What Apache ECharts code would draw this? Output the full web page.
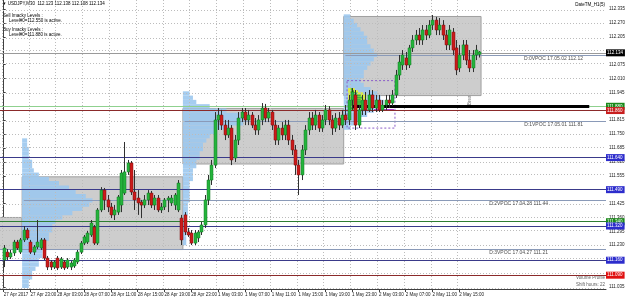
<!DOCTYPE html>
<html>
<head>
<meta charset="utf-8" />
<title>USDJPY,M30</title>
<script src="https://cdn.jsdelivr.net/npm/echarts@6/dist/echarts.min.js"></script>
</head>
<body style="margin:0;background:#fff">
<div id="chart" style="width:625px;height:298px;"></div>
<script>
// candles: [open, high, low, close], one per M30 bar, 27 Apr 19:00 .. 2 May 18:00
var candles = [
 [111.161,111.231,111.128,111.217],[111.198,111.212,111.161,111.175],[111.175,111.208,111.166,111.194],[111.194,111.255,111.180,111.245],
 [111.245,111.255,111.208,111.217],[111.198,111.264,111.189,111.255],[111.255,111.320,111.245,111.301],[111.301,111.311,111.255,111.264],
 [111.245,111.255,111.189,111.198],[111.198,111.231,111.184,111.222],[111.222,111.348,111.212,111.245],[111.217,111.264,111.208,111.255],
 [111.255,111.264,111.161,111.170],[111.170,111.180,111.114,111.128],[111.152,111.161,111.114,111.128],[111.128,111.161,111.119,111.152],
 [111.170,111.180,111.114,111.124],[111.128,111.175,111.119,111.166],[111.152,111.161,111.114,111.124],[111.128,111.170,111.119,111.161],
 [111.128,111.156,111.114,111.147],[111.133,111.170,111.124,111.161],[111.152,111.208,111.142,111.198],[111.198,111.250,111.189,111.240],
 [111.240,111.278,111.231,111.269],[111.245,111.297,111.236,111.287],[111.278,111.348,111.269,111.334],[111.315,111.325,111.231,111.240],
 [111.240,111.404,111.231,111.395],[111.395,111.502,111.385,111.488],[111.488,111.498,111.395,111.442],[111.442,111.465,111.385,111.409],
 [111.409,111.428,111.357,111.372],[111.372,111.418,111.348,111.395],[111.385,111.465,111.372,111.456],[111.418,111.582,111.385,111.568],
 [111.474,111.713,111.465,111.573],[111.573,111.629,111.559,111.615],[111.615,111.624,111.465,111.479],[111.479,111.582,111.395,111.442],
 [111.451,111.488,111.372,111.428],[111.432,111.442,111.357,111.418],[111.418,111.465,111.404,111.442],[111.442,111.488,111.418,111.474],
 [111.474,111.484,111.404,111.418],[111.418,111.465,111.395,111.451],[111.451,111.465,111.385,111.395],[111.395,111.428,111.381,111.409],
 [111.409,111.451,111.395,111.442],[111.442,111.460,111.385,111.451],[111.428,111.465,111.414,111.451],[111.418,111.474,111.395,111.465],
 [111.395,111.535,111.385,111.521],[111.357,111.372,111.231,111.255],[111.372,111.385,111.278,111.292],[111.292,111.311,111.269,111.278],
 [111.287,111.301,111.231,111.240],[111.240,111.301,111.231,111.287],[111.264,111.301,111.245,111.292],[111.292,111.339,111.278,111.325],
 [111.325,111.465,111.311,111.442],[111.442,111.559,111.418,111.535],[111.535,111.629,111.512,111.605],[111.605,111.853,111.591,111.816],
 [111.816,111.872,111.769,111.839],[111.839,111.863,111.769,111.792],[111.792,111.816,111.722,111.746],[111.746,111.816,111.732,111.778],
 [111.778,111.792,111.605,111.629],[111.638,111.746,111.619,111.722],[111.722,111.853,111.699,111.825],[111.825,111.872,111.806,111.853],
 [111.853,111.872,111.792,111.816],[111.816,111.863,111.792,111.839],[111.839,111.853,111.778,111.792],[111.792,111.825,111.746,111.769],
 [111.769,111.839,111.746,111.816],[111.816,111.895,111.792,111.872],[111.872,111.891,111.806,111.825],[111.825,111.872,111.806,111.853],
 [111.853,111.863,111.769,111.792],[111.792,111.816,111.699,111.722],[111.722,111.792,111.699,111.778],[111.778,111.806,111.722,111.746],
 [111.746,111.816,111.722,111.792],[111.792,111.816,111.699,111.722],[111.722,111.746,111.652,111.676],[111.676,111.699,111.559,111.605],
 [111.605,111.629,111.465,111.559],[111.559,111.699,111.535,111.676],[111.676,111.792,111.652,111.769],[111.769,111.853,111.746,111.825],
 [111.825,111.853,111.769,111.792],[111.792,111.863,111.769,111.839],[111.839,111.853,111.760,111.778],[111.778,111.839,111.760,111.816],
 [111.816,111.886,111.792,111.863],[111.863,111.881,111.792,111.816],[111.816,111.839,111.746,111.778],[111.778,111.848,111.760,111.825],
 [111.825,111.853,111.769,111.792],[111.792,111.863,111.778,111.839],[111.839,111.886,111.792,111.816],[111.816,111.933,111.792,111.909],
 [111.909,111.965,111.863,111.947],[111.933,111.956,111.769,111.792],[111.792,111.886,111.778,111.863],[111.863,111.933,111.839,111.909],
 [111.909,111.947,111.839,111.863],[111.863,111.956,111.853,111.933],[111.933,111.956,111.853,111.872],[111.872,111.933,111.853,111.909],
 [111.909,111.933,111.853,111.863],[111.863,111.909,111.853,111.886],[111.886,111.933,111.863,111.909],[111.909,111.933,111.872,111.895],
 [111.895,111.956,111.881,111.933],[111.933,112.050,111.919,112.026],[112.026,112.120,112.003,112.087],[112.073,112.143,112.050,112.120],
 [112.106,112.134,112.050,112.073],[112.073,112.167,112.059,112.153],[112.153,112.213,112.134,112.190],[112.190,112.237,112.167,112.213],
 [112.213,112.246,112.167,112.190],[112.190,112.260,112.167,112.237],[112.237,112.260,112.190,112.213],[112.213,112.283,112.199,112.260],
 [112.260,112.307,112.237,112.283],[112.283,112.298,112.213,112.237],[112.237,112.293,112.213,112.260],[112.260,112.283,112.190,112.213],
 [112.213,112.237,112.143,112.167],[112.167,112.260,112.143,112.237],[112.227,112.246,112.120,112.143],[112.153,112.190,112.026,112.050],
 [112.059,112.167,112.040,112.120],[112.120,112.190,112.096,112.167],[112.167,112.190,112.073,112.096],[112.096,112.143,112.040,112.059],
 [112.059,112.143,112.040,112.120],[112.120,112.167,112.096,112.143],[112.123,112.138,112.108,112.134]
];

// time axis
var tickBars = [0, 8, 16, 24, 32, 40, 48, 56, 64, 72, 80, 88, 96, 104, 112, 120, 128, 136];
var tickLabels = ['27 Apr 2017', '27 Apr 23:00', '28 Apr 03:00', '28 Apr 07:00', '28 Apr 11:00', '28 Apr 15:00',
  '28 Apr 19:00', '28 Apr 23:00', '1 May 03:00', '1 May 07:00', '1 May 11:00', '1 May 15:00',
  '1 May 19:00', '1 May 23:00', '2 May 03:00', '2 May 07:00', '2 May 11:00', '2 May 15:00'];

// price axis
var gridPrices = [112.335, 112.270, 112.205, 112.140, 112.075, 112.010, 111.945, 111.880, 111.815, 111.750, 111.685,
  111.620, 111.555, 111.490, 111.425, 111.360, 111.295, 111.230, 111.165, 111.100, 111.035];
var priceLabels = [112.335, 112.270, 112.205, 112.075, 112.010, 111.945, 111.815, 111.750, 111.685,
  111.620, 111.555, 111.425, 111.360, 111.295, 111.230, 111.035];

// volume profiles: start bar, bin prices (top to bottom), lengths in bars
var profileStarts = [6, 54, 102];
var profile1Prices = [111.72,111.70,111.68,111.66,111.64,111.62,111.60,111.58,111.56,111.54,111.52,111.50,111.48,111.46,111.44,111.42,111.40,111.38,111.36,111.34,111.32,111.30,111.28,111.26,111.24,111.22,111.20,111.18,111.16,111.14,111.12,111.10,111.08,111.06,111.04];
var profile1Lengths = [1.5,1.5,2,2,2,3,3,3.5,5,8,11,14,16,19,21,20,18,15,12,10,9,9,8,8,7,7,6,6,5,5,4,3,3,2,2];
var profile2Prices = [111.94,111.92,111.90,111.88,111.86,111.84,111.82,111.80,111.78,111.76,111.74,111.72,111.70,111.68,111.66,111.64,111.62,111.60,111.58,111.56,111.54,111.52,111.50,111.48,111.46,111.44,111.42,111.40,111.38,111.36,111.34,111.32,111.30,111.28,111.26,111.24];
var profile2Lengths = [2,3,4,8,13,17,19,18,14,10,8,7,6,6,5,5,4,4,3,3,3,2,2,2,2,2,1.5,1.5,1.5,1,1,1,1,1,1,1];
var profile3Prices = [112.30,112.28,112.26,112.24,112.22,112.20,112.18,112.16,112.14,112.12,112.10,112.08,112.06,112.04,112.02,112.00,111.98,111.96,111.94,111.92,111.90,111.88,111.86,111.84,111.82,111.80,111.78];
var profile3Lengths = [2,3,4,5,6,7,7,8,9,10,9,8,7,6,6,5,6,8,10,11,12,11,9,7,5,3,2];

// developing sub profile (yellow / green) and its frame
var subStart = 102.8;
var subPrices = [111.96,111.95,111.94,111.93,111.92,111.91,111.90,111.89,111.88,111.87];
var subOuter = [2,3,4.5,5.5,5.5,5,5.5,5,4,3];
var subInner = [0.5,1,2,3,3.5,3,3.5,3,2,1];
var subFrame = [102.5, 116.8, 112.00, 111.778];

// value areas: [fromBar, toBar, high, low]
var valueAreas = [[-1.1, 6, 111.36, 111.21], [6, 54, 111.55, 111.21], [54, 102, 111.87, 111.61], [102, 143, 112.30, 111.93]];

// horizontal levels with right axis tags
var levelPrices = [112.134, 111.880, 111.860, 111.640, 111.490, 111.340, 111.320, 111.160, 111.090];
var levelColors = ['#000000', '#1a8a1a', '#c81e1e', '#2c2ccc', '#2c2ccc', '#1a8a1a', '#2c2ccc', '#2c2ccc', '#e01010'];
var levelLineColors = ['#9a9a9a', '#8fd18f', '#8b2a2a', '#3a3a8a', '#3a3a8a', '#2e7d32', '#3a3a8a', '#3a3a8a', '#8b2a2a'];

// VPOC lines
var vpocPrices = [112.12, 111.81, 111.44, 111.21];
var vpocStarts = [102, 54, 6, -1.1];
var vpocTexts = ['D:0VPOC 17.05.02 112.12', 'D:1VPOC 17.05.01 111.81', 'D:2VPOC 17.04.28 111.44', 'D:3VPOC 17.04.27 111.21'];
var vpocTextGap = [23, 23, 58, 58];

var buyLevel = 111.880;
var markPrice = 111.865;

var yMin = 111.0254, yMax = 112.3771;
var xMin = -1.1, xMax = 179.8;
var font = 'Liberation Sans';

var chart = echarts.init(document.getElementById('chart'));

function profileData() {
  var out = [];
  [[profile1Prices, profile1Lengths], [profile2Prices, profile2Lengths], [profile3Prices, profile3Lengths]].forEach(function (p, k) {
    p[0].forEach(function (pr, j) { out.push([profileStarts[k], pr, p[1][j]]); });
  });
  return out;
}

var levelLines = levelPrices.map(function (p, i) {
  return {
    yAxis: p,
    lineStyle: { color: levelLineColors[i], width: 1, type: 'solid' },
    label: {
      show: true, position: 'end', distance: 0, formatter: p.toFixed(3),
      backgroundColor: levelColors[i], color: '#fff', fontSize: 4.5, fontFamily: font,
      padding: [1, 2, 1, 1]
    }
  };
});

var gridLinesV = tickBars.map(function (b) {
  return { xAxis: b - 0.5, lineStyle: { color: '#bcbcbc', type: [1, 2], width: 1 }, label: { show: false } };
});
var gridLinesH = gridPrices.map(function (p) {
  return { yAxis: p, lineStyle: { color: '#bcbcbc', type: [1, 2], width: 1 }, label: { show: false } };
});

var vpocLines = vpocPrices.map(function (p, i) {
  return [{ coord: [vpocStarts[i], p], lineStyle: { color: '#8a9ab8', width: 1, type: 'solid' },
    label: { show: true, position: 'insideEndBottom', distance: [vpocTextGap[i], 1], formatter: vpocTexts[i], fontSize: 5, color: '#505050', fontFamily: font } },
    { coord: [xMax, p] }];
});

function rectItem(a, b, style) {
  return { type: 'rect', shape: { x: a[0], y: a[1], width: b[0] - a[0], height: b[1] - a[1] }, style: style };
}

chart.setOption({
  animation: false,
  grid: { left: 0, top: 0, width: 606, height: 289, outerBoundsMode: 'none', containLabel: false },
  xAxis: {
    type: 'value', min: xMin, max: xMax,
    axisLine: { show: true, lineStyle: { color: '#404040' } },
    axisTick: { show: true, customValues: tickBars, length: 3, lineStyle: { color: '#404040' } },
    splitLine: { show: false },
    axisLabel: {
      customValues: tickBars, align: 'left', margin: 3, fontSize: 4.5, color: '#202020', fontFamily: font,
      hideOverlap: false, showMinLabel: true, showMaxLabel: true,
      formatter: function (v) { var i = tickBars.indexOf(Math.round(v)); return i >= 0 ? tickLabels[i] : ''; }
    }
  },
  yAxis: {
    type: 'value', position: 'right', min: yMin, max: yMax,
    axisLine: { show: true, lineStyle: { color: '#404040' } },
    axisTick: { show: true, customValues: priceLabels, length: 2, lineStyle: { color: '#404040' } },
    splitLine: { show: false },
    axisLabel: {
      customValues: priceLabels, margin: 3, fontSize: 4.5, color: '#202020', fontFamily: font,
      formatter: function (v) { return v.toFixed(3); }
    }
  },
  graphic: [
    { type: 'text', left: 2, top: 1, style: { text: '\u25BC USDJPY,M30  112.123 112.138 112.108 112.134', fontSize: 4.5, fill: '#000', fontFamily: font } },
    { type: 'text', left: 3, top: 13, style: { text: 'Sell Imacky Levels :', fontSize: 4.5, fill: '#000', fontFamily: font } },
    { type: 'text', left: 9, top: 18.5, style: { text: 'Level#0=112.550 is active.', fontSize: 4.5, fill: '#000', fontFamily: font } },
    { type: 'text', left: 3, top: 27, style: { text: 'Buy Imacky Levels :', fontSize: 4.5, fill: '#000', fontFamily: font } },
    { type: 'text', left: 9, top: 32.5, style: { text: 'Level#0=111.880 is active.', fontSize: 4.5, fill: '#000', fontFamily: font } },
    { type: 'text', right: 20, top: 2, style: { text: 'DateTM_H1(5)', fontSize: 4.5, fill: '#000', fontFamily: font } },
    { type: 'text', right: 20, top: 275, style: { text: 'Volume Profile', fontSize: 4.5, fill: '#606060', fontFamily: font } },
    { type: 'text', right: 20, top: 282, style: { text: 'Shift hours: 22', fontSize: 4.5, fill: '#606060', fontFamily: font } },
    { type: 'text', x: 467, y: 105, rotation: Math.PI / 2, style: { text: 'Break: 9025 (0.9)', fontSize: 4.5, fill: '#707070', fontFamily: font } }
  ],
  series: [
    {
      name: 'grid', type: 'line', data: [], z: 0,
      markLine: { silent: true, symbol: ['none', 'none'], animation: false, data: gridLinesV.concat(gridLinesH) }
    },
    {
      name: 'valueArea', type: 'custom', z: 1, data: valueAreas,
      renderItem: function (params, api) {
        var a = api.coord([api.value(0) - 0.5, api.value(2)]);
        var b = api.coord([api.value(1) - 0.5, api.value(3)]);
        return rectItem(a, b, { fill: '#cdcdcd', stroke: '#a0a0a0', lineWidth: 1 });
      }
    },
    {
      name: 'profile', type: 'custom', z: 2, data: profileData(),
      renderItem: function (params, api) {
        var a = api.coord([api.value(0) - 0.5, api.value(1) + 0.01]);
        var b = api.coord([api.value(0) - 0.5 + api.value(2), api.value(1) - 0.01]);
        return rectItem(a, b, { fill: '#9cc8ee', opacity: 0.9 });
      }
    },
    {
      name: 'subProfile', type: 'custom', z: 3,
      data: subPrices.map(function (p, i) { return [p, subOuter[i], subInner[i]]; }),
      renderItem: function (params, api) {
        var p = api.value(0);
        var a = api.coord([subStart, p + 0.005]), b = api.coord([subStart + api.value(1), p - 0.005]);
        var c = api.coord([subStart + 0.8, p + 0.005]), d = api.coord([subStart + 0.8 + api.value(2), p - 0.005]);
        return { type: 'group', children: [
          rectItem(a, b, { fill: '#e2ee38' }),
          rectItem(c, d, { fill: '#3cb83c' })
        ] };
      }
    },
    {
      name: 'subFrame', type: 'custom', z: 3, data: [subFrame],
      renderItem: function (params, api) {
        var a = api.coord([api.value(0), api.value(2)]), b = api.coord([api.value(1), api.value(3)]);
        return rectItem(a, b, { fill: 'none', stroke: '#8a5cc8', lineWidth: 1, lineDash: [2, 2] });
      }
    },
    {
      name: 'levels', type: 'line', data: [], z: 4,
      markLine: {
        silent: true, symbol: ['none', 'none'], animation: false,
        data: levelLines.concat(vpocLines).concat([
          [{ coord: [104, buyLevel], lineStyle: { color: '#000', width: 3, type: 'solid' }, label: { show: false } }, { coord: [174.8, buyLevel] }],
          [{ coord: [110.5, markPrice], lineStyle: { color: '#b040d0', width: 1, type: 'solid' }, label: { show: false } }, { coord: [116.5, markPrice] }]
        ])
      }
    },
    {
      name: 'USDJPY', type: 'custom', z: 5,
      data: candles.map(function (c, i) { return [i, c[0], c[1], c[2], c[3]]; }),
      renderItem: function (params, api) {
        var i = api.value(0), o = api.value(1), h = api.value(2), l = api.value(3), c = api.value(4);
        var pO = api.coord([i, o]), pH = api.coord([i, h]), pL = api.coord([i, l]), pC = api.coord([i, c]);
        var x = Math.round(pO[0]);
        var top = Math.min(pO[1], pC[1]), bot = Math.max(pO[1], pC[1]);
        var up = c >= o;
        return { type: 'group', children: [
          { type: 'line', shape: { x1: x + 0.5, y1: pH[1], x2: x + 0.5, y2: pL[1] }, style: { stroke: '#303030', lineWidth: 1 } },
          { type: 'rect', shape: { x: x - 1, y: top, width: 3, height: Math.max(1, bot - top) },
            style: { fill: up ? '#24b43c' : '#cc1a1a', stroke: up ? '#157a25' : '#7a1010', lineWidth: 0.5 } }
        ] };
      }
    }
  ]
});
</script>
</body>
</html>
